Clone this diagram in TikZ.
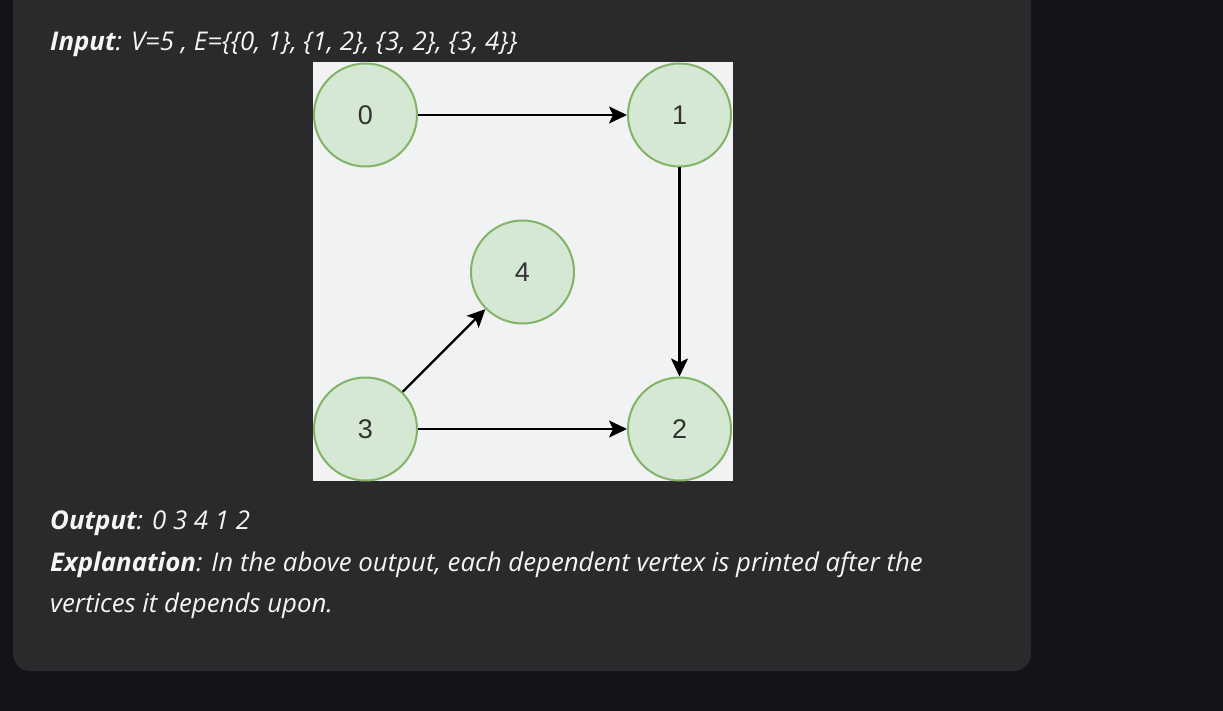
\documentclass[tikz,border=0pt]{standalone}
\usepackage{fontspec}
\setmainfont{Open Sans}
\newfontfamily\nodefont{Liberation Sans}
\usetikzlibrary{arrows.meta}
\definecolor{pagebg}{HTML}{131417}
\definecolor{cardbg}{HTML}{2A2A2D}
\definecolor{panelbg}{HTML}{F1F2F4}
\definecolor{nodefill}{HTML}{D5E8D4}
\definecolor{nodeline}{HTML}{82B366}
\definecolor{txt}{HTML}{F5F5F5}
\tikzset{
  vert/.style={circle, draw=nodeline, fill=nodefill, line width=2pt, minimum size=103pt, inner sep=0pt, font=\nodefont\fontsize{27}{27}\selectfont, text=black!80},
  edge/.style={line width=2.2pt, -{Stealth[length=18pt,width=17pt,inset=4pt]}, black},
  para/.style={anchor=base west, inner sep=0pt, text=txt, font=\fontsize{25.8}{30}\selectfont\itshape}
}
\begin{document}
\begin{tikzpicture}[x=1pt,y=-1pt]
\useasboundingbox (0,0) rectangle (1223,711);
\fill[pagebg] (0,0) rectangle (1223,711);
\fill[cardbg, rounded corners=17pt] (13,-30) rectangle (1031,671);
\fill[panelbg] (313,62) rectangle (733,481);
\node[para] (inp) at (50,51) {\textbf{Input}: V=5 , E=\{\{0, 1\}, \{1, 2\}, \{3, 2\}, \{3, 4\}\}};
\node[vert] (n0) at (365.5,115) {0};
\node[vert] (n1) at (679.5,115) {1};
\node[vert] (n2) at (679.5,429) {2};
\node[vert] (n3) at (365.5,429) {3};
\node[vert] (n4) at (522.5,272) {4};
\draw[edge] (n0) -- (n1);
\draw[edge] (n1) -- (n2);
\draw[edge] (n3) -- (n2);
\draw[edge] (n3) -- (n4);
\node[para] (out) at (50,529) {\textbf{Output}: 0 3 4 1 2};
\node[para] (exp) at (50,571) {\textbf{Explanation}: In the above output, each dependent vertex is printed after the};
\node[para] (exp2) at (50,612) {vertices it depends upon.};
\end{tikzpicture}
\end{document}
